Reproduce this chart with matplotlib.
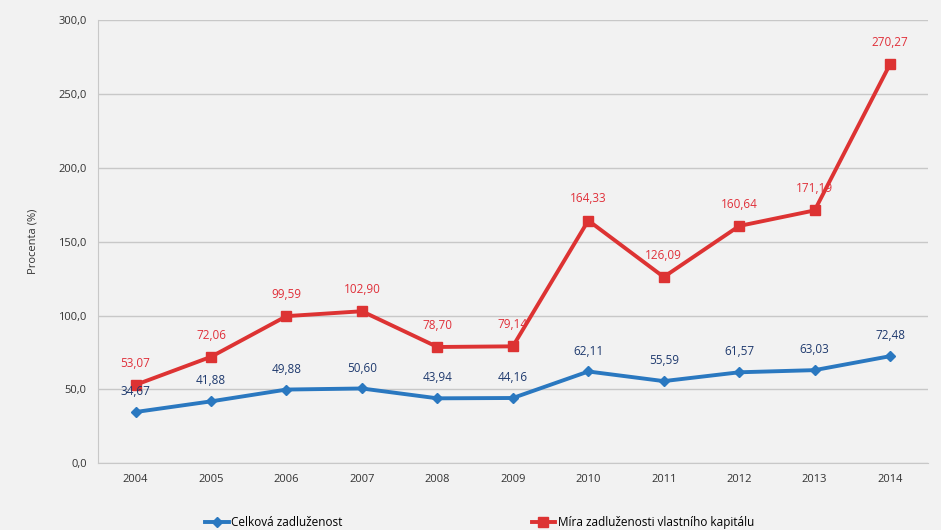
import matplotlib

matplotlib.use("Agg")
import matplotlib.pyplot as plt
from matplotlib.ticker import FuncFormatter

BG = "#f2f2f2"
BLUE = "#2a78c0"
BLUE_TEXT = "#1f3a6e"
RED = "#dd3333"
RED_TEXT = "#e0303a"
GRID = "#c8c8c8"

years = ["2004", "2005", "2006", "2007", "2008", "2009", "2010", "2011", "2012", "2013", "2014"]
celkova = [34.67, 41.88, 49.88, 50.60, 43.94, 44.16, 62.11, 55.59, 61.57, 63.03, 72.48]
mira = [53.07, 72.06, 99.59, 102.90, 78.70, 79.14, 164.33, 126.09, 160.64, 171.19, 270.27]

plt.rcParams["font.family"] = ["Open Sans", "DejaVu Sans"]

fig = plt.figure(figsize=(9.41, 5.30), dpi=100, facecolor=BG)
ax = fig.add_axes([0.104, 0.126, 0.882, 0.836], facecolor=BG)

x = list(range(len(years)))
ax.plot(x, celkova, color=BLUE, linewidth=2.8, marker="D", markersize=5,
        label="Celková zadluženost", zorder=3)
ax.plot(x, mira, color=RED, linewidth=2.8, marker="s", markersize=7,
        label="Míra zadluženosti vlastního kapitálu", zorder=3)

def fmt(v):
    return f"{v:.2f}".replace(".", ",")

for xi, v in zip(x, celkova):
    ax.annotate(fmt(v), (xi, v), xytext=(0, 10), textcoords="offset points",
                ha="center", va="bottom", fontsize=8.5, color=BLUE_TEXT, zorder=4)
for xi, v in zip(x, mira):
    ax.annotate(fmt(v), (xi, v), xytext=(0, 11), textcoords="offset points",
                ha="center", va="bottom", fontsize=8.5, color=RED_TEXT, zorder=4)

ax.set_xlim(-0.5, len(years) - 0.5)
ax.set_ylim(0, 300)
ax.set_yticks(range(0, 301, 50))
ax.yaxis.set_major_formatter(FuncFormatter(lambda v, _: f"{v:.1f}".replace(".", ",")))
ax.set_xticks(x)
ax.set_xticklabels(years)
ax.tick_params(axis="both", labelsize=8, colors="#333333", length=0, pad=8)
ax.set_ylabel("Procenta (%)", fontsize=8, color="#333333", labelpad=14)

ax.grid(axis="y", color=GRID, linewidth=1)
ax.set_axisbelow(True)
for side in ["top", "right"]:
    ax.spines[side].set_visible(False)
ax.spines["left"].set_color(GRID)
ax.spines["bottom"].set_color(GRID)

ax.legend(loc="upper center", bbox_to_anchor=(0.46, -0.095), ncol=2, frameon=False,
          fontsize=8.5, handlelength=2.0, columnspacing=16, handletextpad=0.2)

fig.savefig("out.png", dpi=100, facecolor=BG)
